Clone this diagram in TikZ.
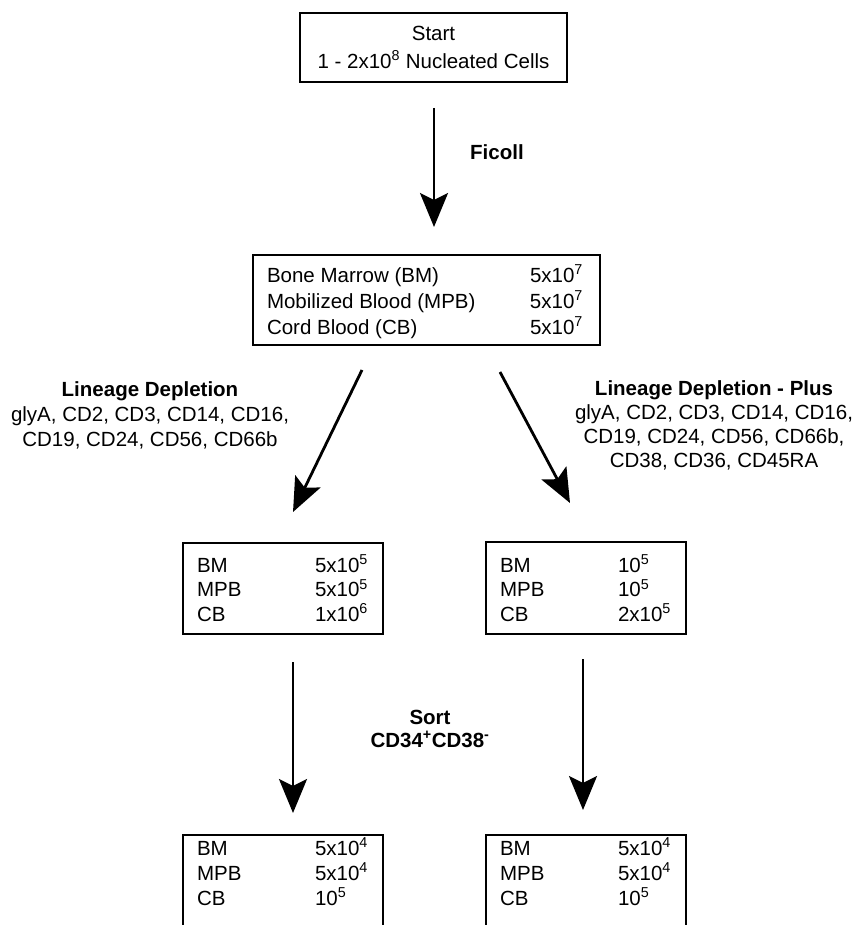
\documentclass[tikz,border=0pt]{standalone}
\usepackage{fontspec}
\setmainfont{Liberation Sans}
\usetikzlibrary{arrows.meta,calc}
\newcommand{\fs}[1]{\fontsize{20.5pt}{#1pt}\selectfont}
\begin{document}
\begin{tikzpicture}[x=1pt,y=-1pt]
\tikzset{
  box/.style={draw, line width=2.8pt, anchor=north west, inner xsep=14pt, inner ysep=0pt, outer sep=0pt},
  arr/.style={line width=2.8pt, -{Stealth[length=34pt,width=28pt,inset=7pt]}},
  lbl/.style={inner sep=0pt, anchor=base},
}
\clip (0,0) rectangle (861,925);
\fill[white] (0,0) rectangle (861,925);

% start box
\node[box, anchor=north, minimum width=267pt, text height=27.5pt, text depth=41.5pt, font=\fs{28}] (s) at (433.5,13)
  {\begin{tabular}[t]{@{}c@{}}Start\\ 1 - 2x10\textsuperscript{8} Nucleated Cells\end{tabular}};

% middle box
\node[box, text height=27.5pt, text depth=62.5pt, font=\fs{26}] (m) at (253,255)
  {\begin{tabular}[t]{@{}p{263pt}@{}p{56pt}@{}}
   Bone Marrow (BM) & 5x10\textsuperscript{7}\\
   Mobilized Blood (MPB) & 5x10\textsuperscript{7}\\
   Cord Blood (CB) & 5x10\textsuperscript{7}
   \end{tabular}};

% second row boxes
\node[box, text height=29.5pt, text depth=61.5pt, font=\fs{23}] (l2) at (183,543)
  {\begin{tabular}[t]{@{}p{118pt}@{}p{54pt}@{}}
   BM & 5x10\textsuperscript{5}\\
   MPB & 5x10\textsuperscript{5}\\
   CB & 1x10\textsuperscript{6}
   \end{tabular}};
\node[box, text height=30.5pt, text depth=61.5pt, font=\fs{23}] (r2) at (486,542)
  {\begin{tabular}[t]{@{}p{118pt}@{}p{54pt}@{}}
   BM & 10\textsuperscript{5}\\
   MPB & 10\textsuperscript{5}\\
   CB & 2x10\textsuperscript{5}
   \end{tabular}};

% bottom boxes (cut off by the page edge)
\node[box, text height=20.5pt, text depth=95pt, font=\fs{24.5}] (l3) at (183,835)
  {\begin{tabular}[t]{@{}p{118pt}@{}p{54pt}@{}}
   BM & 5x10\textsuperscript{4}\\
   MPB & 5x10\textsuperscript{4}\\
   CB & 10\textsuperscript{5}
   \end{tabular}};
\node[box, text height=20.5pt, text depth=95pt, font=\fs{24.5}] (r3) at (486,835)
  {\begin{tabular}[t]{@{}p{118pt}@{}p{54pt}@{}}
   BM & 5x10\textsuperscript{4}\\
   MPB & 5x10\textsuperscript{4}\\
   CB & 10\textsuperscript{5}
   \end{tabular}};

% labels
\node[lbl, anchor=base west, font=\fs{25}] (fi) at (470,159.5) {\bfseries Ficoll};
\node[lbl, font=\fs{25}] (ld) at (150,396.5)
  {\begin{tabular}[t]{@{}c@{}}\bfseries Lineage Depletion\\
   glyA, CD2, CD3, CD14, CD16,\\ CD19, CD24, CD56, CD66b\end{tabular}};
\node[lbl, font=\fs{24}] (ldp) at (714,395.5)
  {\begin{tabular}[t]{@{}c@{}}\bfseries Lineage Depletion - Plus\\
   glyA, CD2, CD3, CD14, CD16,\\ CD19, CD24, CD56, CD66b,\\ CD38, CD36, CD45RA\end{tabular}};
\node[lbl, font=\fs{23}] (so) at (430,724.5)
  {\begin{tabular}[t]{@{}c@{}}\bfseries Sort\\
   \bfseries CD34\textsuperscript{+}CD38\textsuperscript{-}\end{tabular}};

% connectors
\draw[arr] ($(s.south)+(0.5,26)$) -- ($(m.north)+(7.5,-28)$);
\draw[arr] ($(m.south)+(-64.5,25)$) -- ($(l2.north)+(10,-31)$);
\draw[arr] ($(m.south)+(73.5,27)$) -- ($(r2.north)+(-16,-39)$);
\draw[arr] ($(l2.south)+(10,28)$) -- ($(l3.north)+(10,-22)$);
\draw[arr] ($(r2.south)+(-3,25)$) -- ($(r3.north)+(-3,-25)$);
\end{tikzpicture}
\end{document}
